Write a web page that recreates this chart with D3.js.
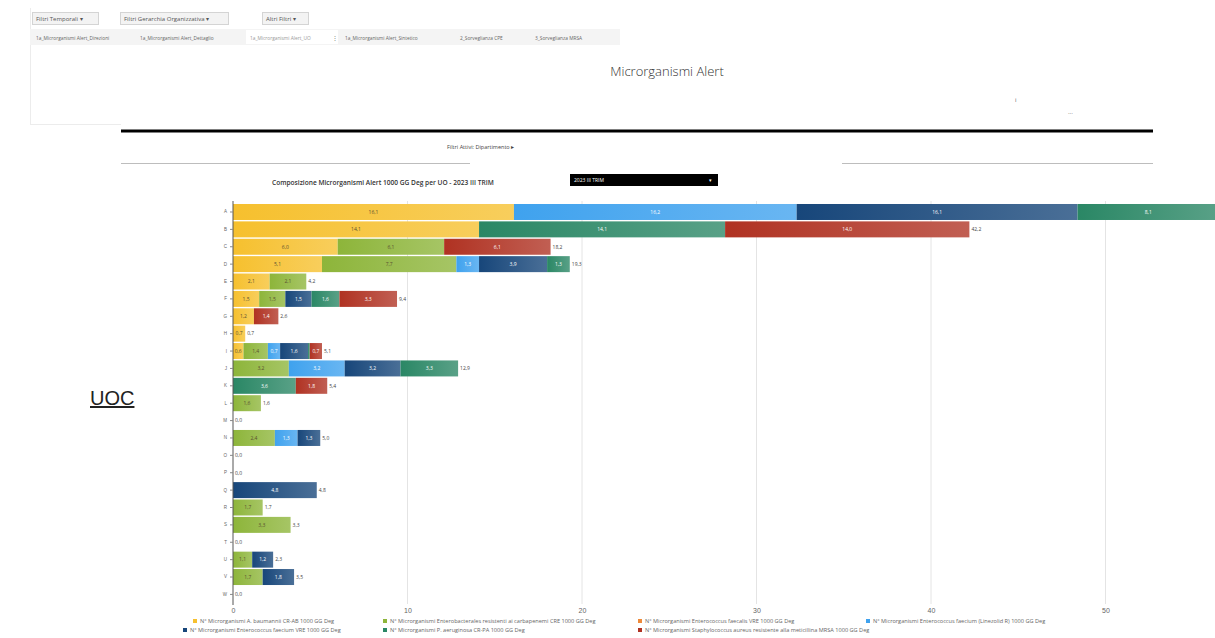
<!DOCTYPE html>
<html>
<head>
<meta charset="utf-8">
<title>Microrganismi Alert</title>
<script src="https://cdn.jsdelivr.net/npm/d3@7"></script>
<style>
  html, body { margin: 0; padding: 0; background: #fff; overflow: hidden; }
  svg { display: block; font-family: "Open Sans", "Segoe UI", "Noto Sans", sans-serif; }
</style>
</head>
<body>
<svg id="page" width="1215" height="638"></svg>
<script>
// ---- Data: alert micro-organisms per 1000 bed-days, by unit (2023 III TRIM) ----
const units = ["A","B","C","D","E","F","G","H","I","J","K","L","M","N","O","P","Q","R","S","T","U","V","W"];

const seriesNames = [
  "N° Microrganismi A. baumannii CR-AB 1000 GG Deg",
  "N° Microrganismi Enterobacterales resistenti ai carbapenemi CRE 1000 GG Deg",
  "N° Microrganismi Enterococcus faecalis VRE 1000 GG Deg",
  "N° Microrganismi Enterococcus faecium (Linezolid R) 1000 GG Deg",
  "N° Microrganismi Enterococcus faecium VRE 1000 GG Deg",
  "N° Microrganismi P. aeruginosa CR-PA 1000 GG Deg",
  "N° Microrganismi Staphylococcus aureus resistente alla meticillina MRSA 1000 GG Deg"
];

const crab    = [16.1, 14.1, 6.0, 5.1, 2.1, 1.5, 1.2, 0.7, 0.6, 0,   0,   0,   0, 0,   0, 0, 0,   0,   0,   0, 0,   0,   0];
const cre     = [0,    0,    6.1, 7.7, 2.1, 1.5, 0,   0,   1.4, 3.2, 0,   1.6, 0, 2.4, 0, 0, 0,   1.7, 3.3, 0, 1.1, 1.7, 0];
const vreFs   = [0,    0,    0,   0,   0,   0,   0,   0,   0,   0,   0,   0,   0, 0,   0, 0, 0,   0,   0,   0, 0,   0,   0];
const lzdR    = [16.2, 0,    0,   1.3, 0,   0,   0,   0,   0.7, 3.2, 0,   0,   0, 1.3, 0, 0, 0,   0,   0,   0, 0,   0,   0];
const vreFm   = [16.1, 0,    0,   3.9, 0,   1.5, 0,   0,   1.6, 3.2, 0,   0,   0, 1.3, 0, 0, 4.8, 0,   0,   0, 1.2, 1.8, 0];
const crpa    = [8.1,  14.1, 0,   1.3, 0,   1.6, 0,   0,   0.1, 3.3, 3.6, 0,   0, 0,   0, 0, 0,   0,   0,   0, 0,   0,   0];
const mrsa    = [0,    14.0, 6.1, 0,   0,   3.3, 1.4, 0,   0.7, 0,   1.8, 0,   0, 0,   0, 0, 0,   0,   0,   0, 0,   0,   0];

const seriesValues = [crab, cre, vreFs, lzdR, vreFm, crpa, mrsa];
const seriesColors = ["#F6C02E", "#8DB53A", "#EE8A3A", "#3FA2EE", "#17467A", "#2A8765", "#B03222"];
const xTicks = [0, 10, 20, 30, 40, 50];

// ---- Page chrome ----
const W = 1215;
const svg = d3.select("#page");
const fmt = v => d3.format(".1f")(v).replace(".", ",");

// filter bar
const topBar = svg.append("g");
topBar.append("line").attr("x1", 30.5).attr("x2", 30.5).attr("y1", 8).attr("y2", 124).attr("stroke", "#ececec");
topBar.append("line").attr("x1", 30).attr("x2", 121).attr("y1", 124.5).attr("y2", 124.5).attr("stroke", "#ececec");
topBar.append("rect").attr("x", 30).attr("y", 29).attr("width", 590).attr("height", 16).attr("fill", "#f4f4f4");

const filters = [
  { label: "Filtri Temporali ▾", x: 32, w: 66 },
  { label: "Filtri Gerarchia Organizzativa ▾", x: 120, w: 108 },
  { label: "Altri Filtri ▾", x: 262, w: 46 }
];
filters.forEach(f => {
  topBar.append("rect").attr("x", f.x + 0.5).attr("y", 12.5).attr("width", f.w).attr("height", 12)
    .attr("fill", "#f3f3f3").attr("stroke", "#d4d4d4");
  topBar.append("text").attr("x", f.x + 4).attr("y", 21).attr("font-size", 6).attr("fill", "#555").text(f.label);
});

const tabs = [
  { label: "1a_Microrganismi Alert_Direzioni", x: 36 },
  { label: "1a_Microrganismi Alert_Dettaglio", x: 140 },
  { label: "1a_Microrganismi Alert_UO", x: 250, active: true },
  { label: "1a_Microrganismi Alert_Sintetico", x: 345 },
  { label: "2_Sorveglianza CPE", x: 460 },
  { label: "3_Sorveglianza MRSA", x: 535 }
];
tabs.forEach(t => {
  if (t.active) {
    topBar.append("rect").attr("x", 246).attr("y", 30).attr("width", 92).attr("height", 14).attr("fill", "#fff");
    topBar.append("text").attr("x", 332).attr("y", 40).attr("font-size", 6).attr("fill", "#777").text("⋮");
  }
  topBar.append("text").attr("x", t.x).attr("y", 39.5).attr("font-size", 4.8)
    .attr("fill", t.active ? "#999" : "#666").text(t.label);
});

// header
svg.append("text").attr("x", 667).attr("y", 76).attr("text-anchor", "middle")
  .attr("font-size", 13).attr("font-weight", 300).attr("fill", "#333").text("Microrganismi Alert");
svg.append("text").attr("x", 1015).attr("y", 102).attr("font-size", 6).attr("fill", "#666").text("i");
svg.append("text").attr("x", 1068).attr("y", 114).attr("font-size", 6).attr("fill", "#666").text("...");
svg.append("rect").attr("x", 121).attr("y", 129.5).attr("width", 1032).attr("height", 3).attr("fill", "#000");
svg.append("text").attr("x", 447).attr("y", 149).attr("font-size", 5.5).attr("fill", "#444").text("Filtri Attivi: Dipartimento ▸");
svg.append("line").attr("x1", 121).attr("x2", 470).attr("y1", 163.5).attr("y2", 163.5).attr("stroke", "#bdbdbd");
svg.append("line").attr("x1", 842).attr("x2", 1153).attr("y1", 163.5).attr("y2", 163.5).attr("stroke", "#bdbdbd");

// side label
svg.append("text").attr("x", 90).attr("y", 405).attr("font-size", 20)
  .attr("font-family", "Liberation Sans, Arial, sans-serif").attr("fill", "#222")
  .attr("text-decoration", "underline").text("UOC");

// chart title + period selector
svg.append("text").attr("x", 272).attr("y", 185).attr("font-size", 6.6).attr("font-weight", 600)
  .attr("fill", "#333").text("Composizione Microrganismi Alert 1000 GG Deg per UO - 2023 III TRIM");
svg.append("rect").attr("x", 570).attr("y", 174).attr("width", 148).attr("height", 12).attr("fill", "#000");
svg.append("text").attr("x", 574).attr("y", 181.5).attr("font-size", 5).attr("fill", "#fff").text("2023 III TRIM");
svg.append("text").attr("x", 709).attr("y", 182).attr("font-size", 5).attr("fill", "#fff").text("▾");

// ---- Stacked horizontal bar chart ----
const x = d3.scaleLinear().domain([0, 60]).range([233, 233 + 60 * 17.45]);
const y = d3.scaleBand().domain(units).range([203.3, 603.1]).paddingInner(0.08).paddingOuter(0.04);

const rows = units.map((u, i) => {
  const r = { unit: u };
  seriesValues.forEach((vals, s) => { r["s" + s] = vals[i]; });
  return r;
});
const keys = seriesValues.map((_, s) => "s" + s);
const stacked = d3.stack().keys(keys)(rows);

// gradients: each segment lightens toward its right end
const defs = svg.append("defs");
seriesColors.forEach((c, s) => {
  const g = defs.append("linearGradient").attr("id", "grad" + s).attr("x1", "0%").attr("x2", "100%");
  g.append("stop").attr("offset", "0%").attr("stop-color", c);
  g.append("stop").attr("offset", "100%").attr("stop-color", d3.interpolateRgb(c, "#fff")(0.22));
});

// gridlines
const chart = svg.append("g");
chart.append("g").selectAll("line").data(xTicks.filter(t => t > 0)).join("line")
  .attr("x1", d => x(d)).attr("x2", d => x(d)).attr("y1", 201).attr("y2", 604)
  .attr("stroke", "#e4e4e4");

// segments
const layer = chart.append("g").selectAll("g").data(stacked).join("g")
  .attr("fill", (d, s) => `url(#grad${s})`);
layer.selectAll("rect").data(d => d.filter(p => p[1] - p[0] > 0)).join("rect")
  .attr("x", d => x(d[0]))
  .attr("y", d => y(d.data.unit))
  .attr("width", d => x(d[1]) - x(d[0]))
  .attr("height", y.bandwidth());

// segment value labels
chart.append("g").selectAll("g").data(stacked).join("g")
  .attr("fill", (d, s) => s < 2 ? "#5a5030" : "#fff")
  .selectAll("text").data(d => d.filter(p => p[1] - p[0] >= 0.3)).join("text")
  .attr("x", d => (x(d[0]) + x(d[1])) / 2)
  .attr("y", d => y(d.data.unit) + y.bandwidth() / 2 + 1.8)
  .attr("text-anchor", "middle").attr("font-size", 5)
  .text(d => fmt(d[1] - d[0]));

// totals (those that run past the visible plot edge are not drawn)
const totals = units.map((u, i) => ({ unit: u, total: d3.sum(seriesValues, v => v[i]) }));
chart.append("g").selectAll("text").data(totals.filter(d => x(d.total) + 20 < W)).join("text")
  .attr("x", d => x(d.total) + 2)
  .attr("y", d => y(d.unit) + y.bandwidth() / 2 + 1.8)
  .attr("font-size", 5).attr("fill", "#444")
  .text(d => fmt(Math.round(d.total * 10) / 10));

// axes
const yAxis = chart.append("g").attr("transform", "translate(233,0)")
  .call(d3.axisLeft(y).tickSize(3).tickPadding(3));
yAxis.select(".domain").attr("stroke", "#555").attr("d", "M0,201V605");
yAxis.selectAll(".tick line").attr("stroke", "#888");
yAxis.selectAll(".tick text").attr("font-size", 4.5).attr("fill", "#666");

const xAxis = chart.append("g").attr("transform", "translate(0,604)")
  .call(d3.axisBottom(x).tickValues(xTicks).tickSize(0).tickPadding(4).tickFormat(d3.format("d")));
xAxis.select(".domain").remove();
xAxis.selectAll(".tick text").attr("font-size", 7).attr("fill", "#666");

// legend
const legendPos = [
  { x: 193, y: 623 }, { x: 383, y: 623 }, { x: 638, y: 623 }, { x: 866, y: 623 },
  { x: 183, y: 632 }, { x: 383, y: 632 }, { x: 638, y: 632 }
];
const legend = svg.append("g").selectAll("g").data(seriesNames).join("g")
  .attr("transform", (d, i) => `translate(${legendPos[i].x},${legendPos[i].y})`);
legend.append("rect").attr("x", 0).attr("y", -4).attr("width", 4).attr("height", 4)
  .attr("fill", (d, i) => seriesColors[i]);
legend.append("text").attr("x", 7).attr("y", 0).attr("font-size", 5.6).attr("fill", "#666").text(d => d);
</script>
</body>
</html>
